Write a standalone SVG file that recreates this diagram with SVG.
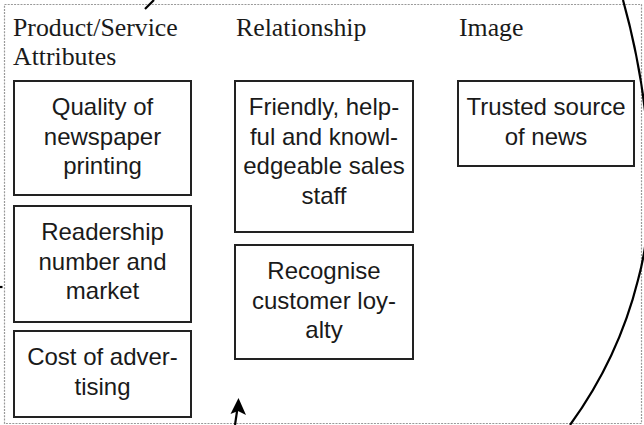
<svg xmlns="http://www.w3.org/2000/svg" width="644" height="425" viewBox="0 0 644 425">
<style>
.box{fill:#fff;stroke:#222;stroke-width:2}
.t{font-family:"Liberation Sans",Arial,sans-serif;font-size:24px;fill:#1a1a1a;text-anchor:middle}
.h{font-family:"Liberation Serif","Times New Roman",serif;font-size:25.8px;fill:#1a1a1a}
.c{fill:none;stroke:#000;stroke-width:2.2}
</style>
<rect x="4.5" y="4.5" width="637" height="419" fill="#fff" stroke="#999" stroke-width="1.2" stroke-dasharray="2,1.2"/>
<g id="headings">
<text class="h" x="13" y="36">Product/Service</text>
<text class="h" x="13" y="65">Attributes</text>
<text class="h" x="236" y="36">Relationship</text>
<text class="h" x="459" y="36">Image</text>
</g>
<g id="n1"><rect class="box" x="14" y="81" width="177" height="114"/>
<text class="t" x="102.5" y="115">Quality of</text><text class="t" x="102.5" y="144.5">newspaper</text><text class="t" x="102.5" y="174">printing</text></g>
<g id="n2"><rect class="box" x="14" y="206" width="177" height="116"/>
<text class="t" x="102.5" y="240">Readership</text><text class="t" x="102.5" y="269.5">number and</text><text class="t" x="102.5" y="299">market</text></g>
<g id="n3"><rect class="box" x="14" y="331" width="177" height="86"/>
<text class="t" x="102.5" y="365">Cost of adver-</text><text class="t" x="102.5" y="394.5">tising</text></g>
<g id="n4"><rect class="box" x="235" y="81" width="178" height="151"/>
<text class="t" x="324" y="115">Friendly, help-</text><text class="t" x="324" y="144.5">ful and knowl-</text><text class="t" x="324" y="174">edgeable sales</text><text class="t" x="324" y="203.5">staff</text></g>
<g id="n5"><rect class="box" x="235" y="245" width="178" height="114"/>
<text class="t" x="324" y="279">Recognise</text><text class="t" x="324" y="308.5">customer loy-</text><text class="t" x="324" y="338">alty</text></g>
<g id="n6"><rect class="box" x="458" y="81" width="176" height="85"/>
<text class="t" x="546" y="115">Trusted source</text><text class="t" x="546" y="144.5">of news</text></g>
<g id="connectors">
<path class="c" d="M623,0 C648,90 660,200 638,280 C628,320 610,370 570,425"/>
<path class="c" d="M154,0 Q150,4 145,9"/>
<path class="c" d="M0,287 L2.5,287" stroke-width="1"/>
<path class="c" d="M235,425 L237.5,408"/>
<polygon points="238.5,398 246,415 238,411 230.5,414" fill="#000"/>
</g>
</svg>
